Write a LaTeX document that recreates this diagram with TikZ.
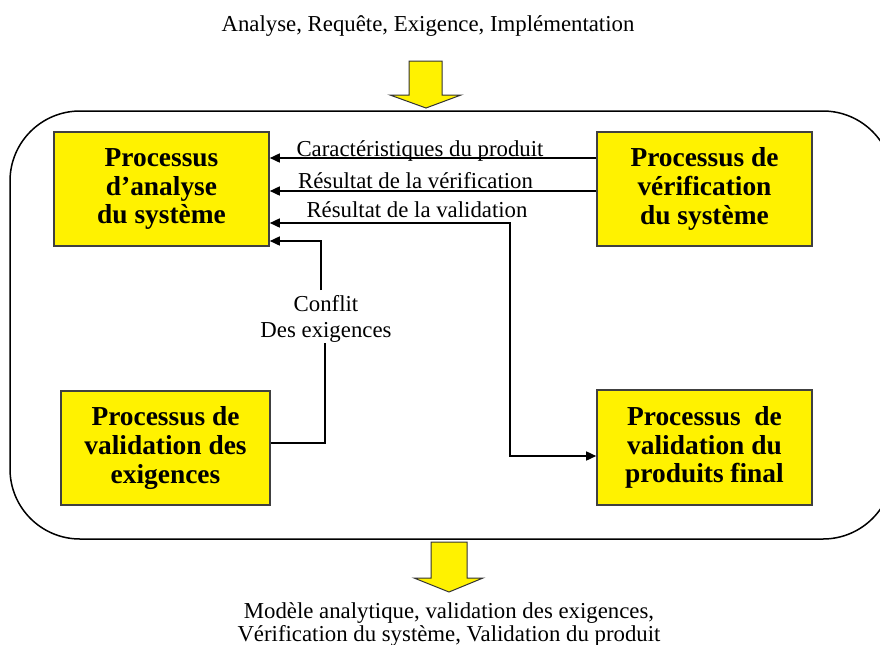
\documentclass[tikz,border=0pt]{standalone}
\usepackage{fontspec}
\setmainfont{Liberation Serif}
\usetikzlibrary{arrows.meta}
\begin{document}
\begin{tikzpicture}[x=0.5pt,y=-0.5pt,
  box/.style={draw=black!75, line width=0.8pt, fill=yellow, align=center,
    font=\fontsize{13.7}{14.4}\selectfont\bfseries, inner sep=0pt},
  lbl/.style={font=\fontsize{11.4}{13}\selectfont, inner sep=0pt},
  conn/.style={line width=0.8pt, draw=black},
  arr/.style={conn, -{Triangle[length=5pt,width=4.5pt]}},
  dblarr/.style={conn, {Triangle[length=5pt,width=4.5pt]}-{Triangle[length=5pt,width=4.5pt]}},
  bigarrow/.style={fill=yellow, draw=black!80, line width=0.5pt, line join=miter}]
\useasboundingbox (0,0) rectangle (880,644);
\begin{scope}
  \clip (0,0) rectangle (880,644);
  \draw[line width=0.75pt, rounded corners=35pt] (10,111) rectangle (893,539);
\end{scope}

% big yellow arrows
\draw[bigarrow] (409,61) -- (442,61) -- (442,95) -- (461,95) -- (426,108) -- (390,95) -- (409,95) -- cycle;
\draw[bigarrow] (431,542) -- (467,542) -- (467,578) -- (483,578) -- (449,592) -- (414,578) -- (431,578) -- cycle;

% texts outside
\node[lbl, anchor=base] (inp) at (428,31) {Analyse, Requête, Exigence, Implémentation};
\node[lbl, align=center, anchor=north, font=\fontsize{11.4}{11.5}\selectfont] (outp) at (449,602)
  {Modèle analytique, validation des exigences,\\Vérification du système, Validation du produit};

% boxes
\node[box, minimum width=107.5pt, minimum height=57pt] (ana) at (161.5,189) {Processus\\d’analyse\\du système};
\node[box, minimum width=107.5pt, minimum height=57pt] (ver) at (704.5,189) {Processus de\\vérification\\du système};
\node[box, minimum width=104.5pt, minimum height=57pt] (vex) at (165.5,448) {Processus de\\validation des\\exigences};
\node[box, minimum width=107.5pt, minimum height=57.5pt] (vpf) at (704.5,447.5) {Processus\ \ de\\validation du\\produits final};

% connectors
\draw[arr] (ver.west |- 0,158) -- (ana.east |- 0,158);
\node[lbl, anchor=base] (l1) at (420,156) {Caractéristiques du produit};
\draw[arr] (ver.west |- 0,191) -- (ana.east |- 0,191);
\node[lbl, anchor=base] (l2) at (415.5,188) {Résultat de la vérification};
\coordinate (vb1) at (510,223);
\coordinate (vb2) at (510,456);
\draw[dblarr] (ana.east |- vb1) -- (vb1) -- (vb2) -- (vpf.west |- vb2);
\node[lbl, anchor=base] (l3) at (417,217) {Résultat de la validation};

\node[lbl, align=center, font=\fontsize{11.4}{13}\selectfont] (conf) at (326,319) {Conflit\\Des exigences};
\coordinate (cb1) at (325,343);
\coordinate (cb2) at (321,290);
\draw[conn] (vex.east |- 0,443) -| (cb1);
\draw[arr] (cb2) |- (ana.east |- 0,241);
\end{tikzpicture}
\end{document}
